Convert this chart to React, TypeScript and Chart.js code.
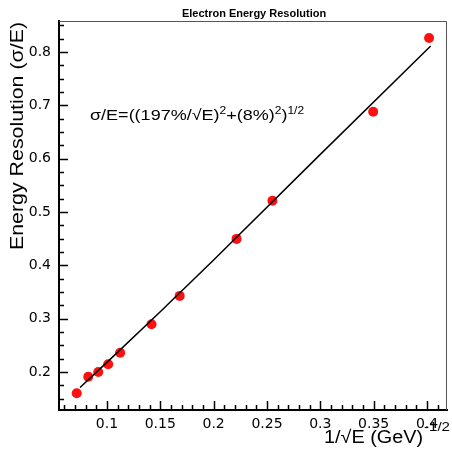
import React, { useEffect, useRef } from "react";
import { Chart, registerables } from "chart.js";

Chart.register(...registerables);

const invSqrtE = [0.0717, 0.0825, 0.0919, 0.1012, 0.1124, 0.1418, 0.1682, 0.2215, 0.2551, 0.3495, 0.4019];
const resolution = [0.160, 0.191, 0.200, 0.2144, 0.236, 0.2895, 0.3426, 0.4495, 0.521, 0.688, 0.826];

const fitX = [0.0748, 0.1, 0.15, 0.2, 0.3, 0.4034];
const fitY = [0.171, 0.218, 0.313, 0.41, 0.608, 0.811];

const xMajorTicks = [0.1, 0.15, 0.2, 0.25, 0.3, 0.35, 0.4];
const xMinorTicks = [0.06, 0.07, 0.08, 0.09, 0.11, 0.12, 0.13, 0.14, 0.16, 0.17, 0.18, 0.19, 0.21, 0.22, 0.23, 0.24, 0.26, 0.27, 0.28, 0.29, 0.31, 0.32, 0.33, 0.34, 0.36, 0.37, 0.38, 0.39, 0.41];
const yMajorTicks = [0.2, 0.3, 0.4, 0.5, 0.6, 0.7, 0.8];
const yMinorTicks = [0.15, 0.175, 0.225, 0.25, 0.275, 0.325, 0.35, 0.375, 0.425, 0.45, 0.475, 0.525, 0.55, 0.575, 0.625, 0.65, 0.675, 0.725, 0.75, 0.775, 0.825, 0.85];

const FONT = "'Liberation Sans', Arial, Helvetica, sans-serif";
const TICKFONT = "'DejaVu Sans', sans-serif";

function stretchedText(ctx: CanvasRenderingContext2D, text: string, x: number, y: number, sx: number) {
  ctx.save();
  ctx.translate(x, y);
  ctx.scale(sx, 1);
  ctx.fillText(text, 0, 0);
  ctx.restore();
  return ctx.measureText(text).width * sx;
}

const decorPlugin = {
  id: "decor",
  afterDraw(chart: any) {
    const ctx = chart.ctx as CanvasRenderingContext2D;
    const { left, right, top, bottom } = chart.chartArea;
    const xs = chart.scales.x;
    const ys = chart.scales.y;
    ctx.save();
    // frame top/right
    ctx.strokeStyle = "#555";
    ctx.lineWidth = 1;
    ctx.beginPath();
    ctx.moveTo(left, top + 0.5);
    ctx.lineTo(right - 0.5, top + 0.5);
    ctx.lineTo(right - 0.5, bottom);
    ctx.stroke();
    // ticks
    ctx.strokeStyle = "#000";
    ctx.lineWidth = 1.5;
    ctx.beginPath();
    xMajorTicks.forEach((v) => {
      const p = Math.round(xs.getPixelForValue(v)) + 0.5;
      ctx.moveTo(p, bottom);
      ctx.lineTo(p, bottom - 9);
    });
    xMinorTicks.forEach((v) => {
      const p = Math.round(xs.getPixelForValue(v)) + 0.5;
      ctx.moveTo(p, bottom);
      ctx.lineTo(p, bottom - 5);
    });
    yMajorTicks.forEach((v) => {
      const p = Math.round(ys.getPixelForValue(v)) + 0.5;
      ctx.moveTo(left, p);
      ctx.lineTo(left + 9, p);
    });
    yMinorTicks.forEach((v) => {
      const p = Math.round(ys.getPixelForValue(v)) + 0.5;
      ctx.moveTo(left, p);
      ctx.lineTo(left + 5, p);
    });
    ctx.stroke();

    ctx.fillStyle = "#000";
    ctx.textBaseline = "alphabetic";
    // title
    ctx.font = `bold 11px ${FONT}`;
    ctx.textAlign = "center";
    ctx.fillText("Electron Energy Resolution", 254, 17);

    ctx.textAlign = "left";
    // y title (rotated, ends at top)
    ctx.save();
    ctx.translate(23, 250);
    ctx.rotate(-Math.PI / 2);
    ctx.font = `18px ${FONT}`;
    const yt = "Energy Resolution (\u03c3/E)";
    const ytw = ctx.measureText(yt).width;
    ctx.scale(228 / ytw, 1);
    ctx.fillText(yt, 0, 0);
    ctx.restore();

    // x title
    const main = "1/\u221aE (GeV)";
    ctx.font = `18px ${FONT}`;
    const mw = ctx.measureText(main).width;
    const msx = 99 / mw;
    stretchedText(ctx, main, 324, 443, msx);
    ctx.font = `13px ${FONT}`;
    const sup = "-1/2";
    const sw = ctx.measureText(sup).width;
    stretchedText(ctx, sup, 424, 431, 26 / sw);

    // annotation
    const segs: [string, boolean][] = [
      ["\u03c3/E=((197%/\u221aE)", false],
      ["2", true],
      ["+(8%)", false],
      ["2", true],
      [")", false],
      ["1/2", true],
    ];
    let ax = 90;
    const by = 120;
    const asx = 1.2;
    segs.forEach(([t, s]) => {
      ctx.font = s ? `10px ${FONT}` : `15px ${FONT}`;
      ax += stretchedText(ctx, t, ax, s ? by - 6 : by, asx);
    });
    ctx.restore();
  },
};

export default function App() {
  const ref = useRef<HTMLCanvasElement | null>(null);
  useEffect(() => {
    document.body.style.margin = "0";
    document.body.style.overflow = "hidden";
    const canvas = ref.current!;
    const chart = new Chart(canvas, {
      type: "scatter",
      data: {
        datasets: [
          {
            label: "fit",
            data: fitX.map((x, i) => ({ x, y: fitY[i] })),
            showLine: true,
            borderColor: "#000",
            borderWidth: 1.5,
            pointRadius: 0,
            fill: false,
          },
          {
            label: "data",
            data: invSqrtE.map((x, i) => ({ x, y: resolution[i] })),
            pointRadius: 5,
            pointBackgroundColor: "#ff1010",
            pointBorderWidth: 0,
            borderColor: "#ff1010",
          },
        ],
      },
      options: {
        animation: false,
        responsive: false,
        events: [],
        layout: { padding: { top: 21, right: 4, left: 0, bottom: 0 } },
        plugins: { legend: { display: false }, title: { display: false }, tooltip: { enabled: false } },
        scales: {
          x: {
            type: "linear",
            min: 0.0551,
            max: 0.4187,
            afterBuildTicks: (s: any) => {
              s.ticks = xMajorTicks.map((v) => ({ value: v }));
            },
            afterFit: (s: any) => {
              s.height = 52;
            },
            grid: { display: false, drawTicks: false },
            border: { display: true, color: "#000", width: 2 },
            ticks: {
              padding: 6,
              color: "#000",
              font: { family: TICKFONT, size: 14 },
              maxRotation: 0,
              autoSkip: false,
              callback: (v: any) => String(Math.round(Number(v) * 100) / 100),
            },
          },
          y: {
            type: "linear",
            min: 0.1287,
            max: 0.858,
            afterBuildTicks: (s: any) => {
              s.ticks = yMajorTicks.map((v) => ({ value: v }));
            },
            afterFit: (s: any) => {
              s.width = 59;
            },
            grid: { display: false, drawTicks: false },
            border: { display: true, color: "#000", width: 2 },
            ticks: {
              padding: 8,
              color: "#000",
              font: { family: TICKFONT, size: 14 },
              autoSkip: false,
              callback: (v: any) => String(Math.round(Number(v) * 10) / 10),
            },
          },
        },
      },
      plugins: [decorPlugin],
    });
    return () => chart.destroy();
  }, []);
  return <canvas ref={ref} width={452} height={462} style={{ display: "block" }} />;
}
